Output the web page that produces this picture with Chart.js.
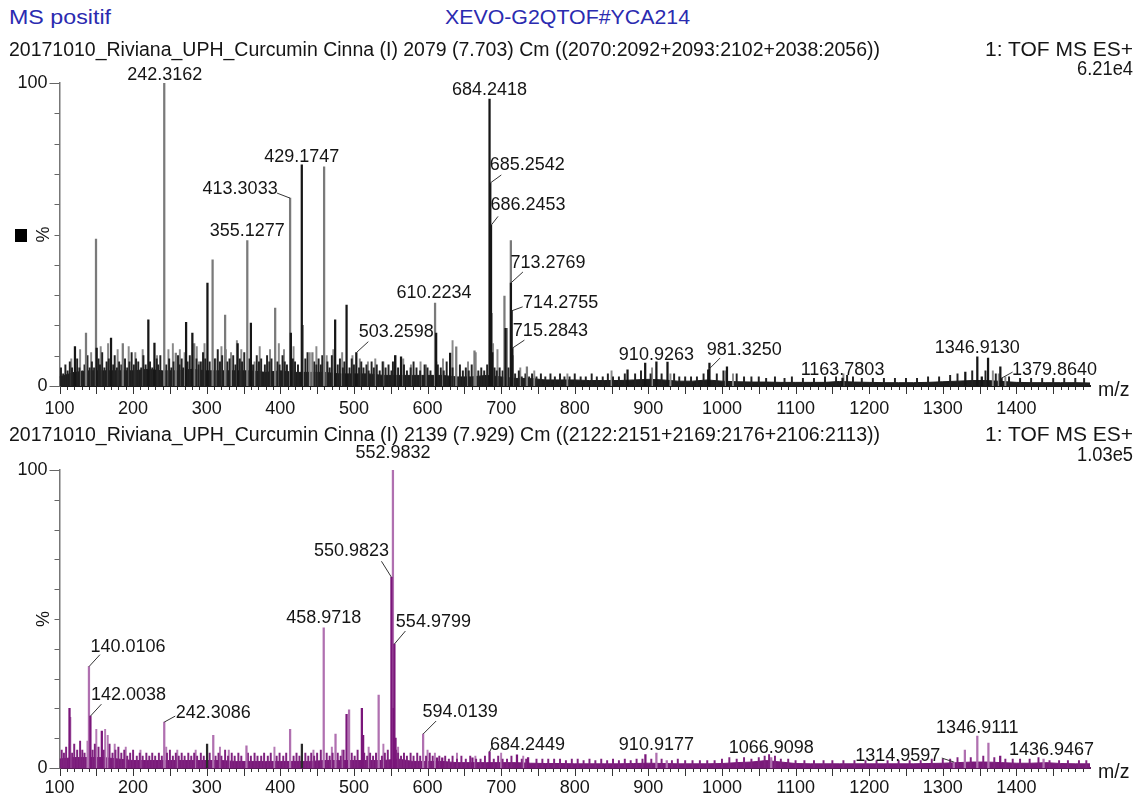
<!DOCTYPE html>
<html><head><meta charset="utf-8">
<script src="https://cdn.jsdelivr.net/npm/chart.js@4.4.1/dist/chart.umd.min.js"></script>
<style>
html,body{margin:0;padding:0;background:#fff;}
body{width:1137px;height:800px;position:relative;overflow:hidden;font-family:"Liberation Sans",Arial,sans-serif;}
.t{position:absolute;white-space:nowrap;font-size:19.5px;line-height:1;color:#151515;transform-origin:0 0;}
canvas{position:absolute;left:0;}
#sq{position:absolute;left:15px;top:229px;width:12px;height:13px;background:#000;}
</style></head><body>
<canvas id="c1" width="1137" height="370" style="top:55px;width:1137px;height:370px"></canvas>
<canvas id="c2" width="1137" height="360" style="top:440px;width:1137px;height:360px"></canvas>
<div id="sq"></div>
<script>
const FONT = '"Liberation Sans", Arial, sans-serif';

// ---------- shared axis labels ----------
const xTickLabels = [100,200,300,400,500,600,700,800,900,1000,1100,1200,1300,1400];
const yTickLabels = [0,100];

// ---------- top spectrum (scan 2079) ----------
const topDarkMz  = [121,150.5,170,220.7,229,272,280.5,301,342,360,414.3,429.1747,474.5,490,503.2598,556,564,611.7,630.7,684.2418,685.2542,686.2453,688,706,713.2769,714.2755,715.2843,871.7,895.7,910.9263,926,981.325,983,1006.8,1163.7803,1330.6,1346.913,1353,1361.5,1378.2,1379.864];
const topDarkPct = [13,12.5,15.8,21.8,14.2,21,17.5,34,14,20.8,17.5,73,21.8,26.7,11,10,9.6,17.5,10.9,94.7,67,53,11,19,34,24.8,12.5,5.3,7.6,8,7.9,5.3,7.6,6.3,2.6,4.6,9.6,3,9.2,6.3,2.6];
const topGreyMz  = [136,149.6,186,242.3162,258,283,308,325,355.1277,393,413.3033,430.5,443.6,459.5,610.2234,639,663.8,687,704.5,713.2,735];
const topGreyPct = [17.5,48.5,14,100,10.9,14,41.6,23.4,48,25.7,62,20,11,72.3,27.4,12.9,11.6,24,29.7,48,6.3];
const topGrassMz = [102,105,108,111,114,117,124,127,131,134,138,141,144,147,153,155,158,161,164,167,173,175,178,181,184,189,192,195,198,201,204,207,211,214,217,223,226,232,234,237,245,249,252,255,261,263,266,268,274,277,286,289,292,295,298,304,311,315,318,321,328,331,336,339,345,348,351,358,363,368,371,374,379,382,385,388,396,399,403,406,409,417,420,424,434,437,446,449,452,455,457,464,467,470,478,481,485,487,494,497,500,507,510,513,517,520,524,527,531,535,539,543,547,551,553,560,568,572,577,581,585,590,596,600,604,614,618,622,626,634,644,648,652,656,660,669,673,677,681,691,694,698,702,710,719,724,728,733,738,742,748,754,760,767,773,780,786,793,800,808,815,823,830,838,845,852,860,868,882,890,903,918,935,942,950,958,966,975,993,1002,1020,1030,1040,1050,1060,1072,1085,1095,1110,1125,1140,1155,1170,1178,1190,1205,1220,1235,1250,1265,1280,1295,1310,1320,1340,1358,1372,1390,1405,1420,1435,1450,1465,1480,1492];
const topGrassPct = [6,4,7,5,8,6,9,6,5,7,10,6,8,6,9,7,11,6,8,9,7,10,6,8,7,9,6,8,11,7,9,8,6,10,7,8,6,9,7,10,7,9,6,8,10,7,9,6,8,10,9,7,8,11,9,8,9,12,8,10,8,9,10,7,9,8,11,9,7,10,8,9,7,10,8,9,8,7,10,8,7,9,8,7,9,11,8,7,9,7,10,8,6,10,7,9,6,8,6,9,7,6,8,6,7,5,8,6,7,5,8,6,7,5,8,6,7,5,6,8,6,5,7,6,5,7,6,5,8,6,7,5,6,5,7,5,6,5,7,6,5,6,5,6,4,5,3,4,3,4,3,4,3,4,3,4,3,3,4,3,3,4,3,3,4,3,3,4,4,5,4,4,4,3,3,3,3,4,4,5,4,3,3,3,2.5,3,2.5,3,2.5,2.5,3,3,3.5,3,2.5,2.5,2.5,2.5,2.5,2.5,3,3,3.5,4,5,5,4,3,2.5,2.5,2.5,2.5,2.5,2.5,2.5];
const topGrassGreyMz  = [116,128,143,156,166,179,194,203,213,232.5,248,254,263.5,270,286.5,289.5,297,312,320,326,333,341,347,365,372,386,398,405,418,440,449,463,472,484,498,508,519,529,540,556.5,567,577.5,590.5,598,612,621,634,655,665.5,689,695,708,716,726,745,790,850,905,930,1005,1015,1165,1368,1376,1385];
const topGrassGreyPct = [9,12,11,13,14,12,13,11,12,10,12,14,12,11,13,8,14,9,13,12,11,15,12,8,13,12,14,12,13,11,13,10,12,11,10,9,8,9,8,10,9,7,8,7,8,9,15,8,11,14,12,19,10,6,5,4,5,6,4,5,4,4,5,4,3];
const topFloorMz  = [100,120,140,160,180,200,220,240,260,280,300,320,340,360,380,400,420,440,460,480,500,520,540,560,580,600,620,640,660,680,700,720,740,760,780,800,820,840,860,880,900,920,940,960,980,1000,1020,1040,1060,1080,1100,1120,1140,1160,1180,1200,1220,1240,1260,1280,1300,1320,1340,1360,1380,1400,1420,1440,1460,1480,1500];
const topFloorPct = [3,4.5,5,5,5,5,5.5,5,5,5.5,5,5,5,5,4.5,5,4.5,4.5,4.5,4,4,4,3.5,3.5,3.5,3.5,3.5,3,3,3.5,3,2.5,2.5,2,2,2,1.8,1.8,1.8,2,2.2,2,1.6,1.6,2,1.6,1.4,1.3,1.3,1.2,1.2,1.2,1.2,1.5,1.3,1.2,1.1,1.1,1.1,1.2,1.4,1.6,1.8,1.8,1.5,1.2,1.1,1.1,1.1,1.1,1.0];
const topLabelMz = [242.3162,684.2418,429.1747,413.3033,355.1277,503.2598,610.2234,685.2542,686.2453,713.2769,714.2755,715.2843,910.9263,981.325,1163.7803,1346.913,1379.864];
// label layout: [dx, dy(baseline), leaderStartDx, leaderStartDy]
const topLabelLayout = [[0.5,-3],[0,-4],[0,-3],[-50,-4,-13,-5],[0,-5],[40,-16,12,-11],[-1,-5],[37,-13,11,-8],[37,-15,7,-9],[37,-15,12,-11],[49,-3,11,-4],[38,-12,12,-8],[0,-2],[36,-15,12,-12],[0,-3],[0,-4],[53,-3,11,-6]];

// ---------- bottom spectrum (scan 2139) ----------
const botDarkMz  = [113.6,142.0038,157.5,490,510.8,512.5,550.9823,553.98,554.9799,556.5,613,620,661,684.2449,721.5,736.6,896,1378];
const botDarkPct = [20,17.4,12.4,18,20,11,64,20,41.6,10,3.4,3.4,3.4,5.4,4.4,3.5,4.5,4];
const botLightMz  = [114.5,140.0106,242.3086,308.9,354,413.3,458.9718,475,493.4,533.6,552.9832,594.0139,910.9177,925,1066.9098,1314.9597,1330,1346.9111,1362,1436.9467];
const botLightPct = [17,34,15.4,11,7.4,13,47,11.4,19.5,24.5,100,11.4,5,2.5,3.5,2,6,10.7,8.4,3];
const botBlackMz  = [300.5,429.3];
const botBlackPct = [8,8];
const botGrassMz = [103,106,109,117,120,124,128,131,134,145,148,153,160,168,172,176,180,184,188,192,196,200,205,209,213,218,222,226,230,235,239,246,250,254,258,262,266,270,275,279,283,287,292,296,304,312,316,320,325,329,334,338,343,347,356,360,365,369,374,378,383,387,395,399,404,408,418,422,426,434,438,442,446,450,455,463,467,471,478,482,486,497,501,505,514,518,522,526,530,538,542,546,557,560,564,568,572,577,581,586,590,598,603,607,616,624,629,634,640,646,652,658,666,672,678,690,696,702,708,714,728,734,748,756,764,772,780,788,796,804,812,820,828,836,844,852,860,868,876,884,892,904,918,932,940,950,960,970,980,990,1000,1010,1020,1030,1040,1050,1058,1064,1072,1080,1090,1100,1112,1125,1138,1150,1165,1180,1195,1210,1225,1240,1255,1270,1285,1300,1310,1320,1338,1355,1370,1385,1395,1405,1418,1430,1445,1458,1470,1485,1495];
const botGrassPct = [6,5,7,5,8,6,9,6,5,6,8,7,6,8,5,6,7,5,6,4,5,6,4,5,4,5,4,5,4,5,4,5,6,4,5,4,5,4,5,4,5,4,5,4,5,4,5,4,6,4,5,4,5,4,5,4,5,4,4,5,4,5,4,5,4,5,4,5,4,5,4,5,4,5,6,5,4,5,5,4,6,5,4,6,5,4,5,4,5,4,5,6,6,5,4,5,4,5,4,5,4,4,5,4,4,4,3,4,3,4,3,4,3,3,4,3,4,3,3,4,3,3,3,3,3,3,3,2.5,3,3,2.5,3,2.5,3,2.5,3,2.5,3,2.5,3,3,3,3,2.5,3,2.5,2.5,2.5,2.5,2.5,3,3.5,3,3.5,3,3.5,4,4.5,4,3,3,2.5,2.5,2.5,2.5,2.5,2.5,2.5,2.5,2.5,2.5,2.5,2.5,2.5,3,3,3,3.5,3.5,4,3.5,3,3,3,3,3.5,2.5,2.5,2.5,2.5,2.5];
const botGrassLightMz  = [114,138,150,162,165.5,175,190,210,245,260,285,318,330,392,445,470,484,520,540,560,600,610,640,665,700,730];
const botGrassLightPct = [8,9,13,13,11,8,7,6,7,6,6,7,6,7,6,7,6,7,8,7,6,5,5,4,5,4];
const botFloorMz  = topFloorMz;
const botFloorPct = [3,3.5,3.5,3.5,3,2.5,2.5,2.5,2.5,2.5,2.5,2.5,2.2,2.2,2.2,2.2,2.2,2.2,2.5,2.5,2.5,2.5,2.5,3,2.2,2.2,2.2,1.8,1.8,1.8,1.8,1.8,1.6,1.5,1.5,1.4,1.4,1.4,1.4,1.5,1.6,1.5,1.4,1.4,1.4,1.5,1.8,2,2.5,2,1.5,1.4,1.4,1.4,1.4,1.4,1.4,1.4,1.4,1.5,1.6,1.8,2,2,1.8,1.6,1.6,1.8,1.5,1.4,1.4];
const botLabelMz = [552.9832,550.9823,554.9799,458.9718,140.0106,142.0038,242.3086,594.0139,684.2449,910.9177,1066.9098,1314.9597,1346.9111,1436.9467];
const botLabelLayout = [[0,-12],[-40,-21,-10,-16],[39,-17,11,-13],[0,-5],[39,-15,11,-12],[38,-16,11,-12],[49,-4,11,-6],[37,-17,13,-13],[38,-2,3,-6],[0,-3],[0,-5],[-56,-1,-12,-4],[0,-3],[8,-4]];

// ---------- header texts ----------
const headerItems = [
  {text:'MS positif', x:9, base:24, w:102, color:'#2b2bb0'},
  {text:'XEVO-G2QTOF#YCA214', x:445, base:24, w:245, color:'#2b2bb0'},
  {text:'20171010_Riviana_UPH_Curcumin Cinna (I) 2079 (7.703) Cm ((2070:2092+2093:2102+2038:2056))', x:9, base:56, w:871},
  {text:'1: TOF MS ES+', right:1133, base:56, w:148},
  {text:'6.21e4', right:1133, base:75, w:56},
  {text:'20171010_Riviana_UPH_Curcumin Cinna (I) 2139 (7.929) Cm ((2122:2151+2169:2176+2106:2113))', x:9, base:441, w:871},
  {text:'1: TOF MS ES+', right:1133, base:441, w:148},
  {text:'1.03e5', right:1133, base:461, w:56}
];
headerItems.forEach(h => {
  const d = document.createElement('div');
  d.className = 't'; d.textContent = h.text;
  if (h.color) d.style.color = h.color;
  document.body.appendChild(d);
  const w0 = d.getBoundingClientRect().width;
  const left = h.right !== undefined ? h.right - h.w : h.x;
  d.style.left = left + 'px';
  d.style.top = (h.base - 16.5) + 'px';
  d.style.transform = 'scaleX(' + (h.w / w0) + ')';
});

// ---------- helpers ----------
const pts = (mz, pct) => mz.map((m, i) => ({x: m, y: pct[i]}));
function labelItems(mzs, layout, groups) {
  return mzs.map((m, i) => {
    let pct = 0;
    groups.forEach(([gm, gp]) => { const k = gm.indexOf(m); if (k >= 0) pct = gp[k]; });
    const L = layout[i];
    return {mz: m, pct, text: m.toFixed(4), dx: L[0], dy: L[1], lead: L.length > 2 ? [L[2], L[3]] : null};
  });
}

const msPlugin = {
  id: 'msDecor',
  afterDatasetsDraw(chart, args, o) {
    const ctx = chart.ctx, xs = chart.scales.x, ys = chart.scales.y;
    ctx.save();
    ctx.font = '18px ' + FONT; ctx.fillStyle = '#151515';
    ctx.textAlign = 'center'; ctx.textBaseline = 'alphabetic';
    ctx.strokeStyle = o.leadColor; ctx.lineWidth = 1;
    o.labels.forEach(l => {
      const px = xs.getPixelForValue(l.mz), py = ys.getPixelForValue(l.pct);
      ctx.fillText(l.text, px + l.dx, py + l.dy);
      if (l.lead) { ctx.beginPath(); ctx.moveTo(px + l.lead[0], py + l.lead[1]); ctx.lineTo(px, py); ctx.stroke(); }
    });
    ctx.restore();
  },
  afterDraw(chart, args, o) {
    const ctx = chart.ctx, xs = chart.scales.x, ys = chart.scales.y;
    const y0 = ys.getPixelForValue(0);
    ctx.save();
    ctx.strokeStyle = o.tickColor; ctx.lineWidth = 1;
    ctx.beginPath();
    for (let v = xs.min; v < xs.max - 5; v += 10) {
      const px = Math.round(xs.getPixelForValue(v)) + 0.5;
      const len = v % 50 === 0 ? 7 : 3;
      ctx.moveTo(px, y0 + 1); ctx.lineTo(px, y0 + 1 + len);
    }
    ctx.stroke();
    ctx.strokeStyle = '#666';
    ctx.beginPath();
    for (let v = 0; v <= 100; v += 10) {
      const py = Math.round(ys.getPixelForValue(v)) + 0.5;
      const len = (v === 0 || v === 100) ? 10 : 5;
      ctx.moveTo(xs.left - len, py); ctx.lineTo(xs.left, py);
    }
    ctx.stroke();
    ctx.fillStyle = '#151515';
    ctx.font = '18px ' + FONT; ctx.textAlign = 'center'; ctx.textBaseline = 'middle';
    ctx.save();
    ctx.translate(o.pctX, (ys.top + ys.bottom) / 2 + o.pctDy);
    ctx.rotate(-Math.PI / 2);
    ctx.fillText('%', 0, 0);
    ctx.restore();
    ctx.font = '19.5px ' + FONT; ctx.textAlign = 'left'; ctx.textBaseline = 'alphabetic';
    ctx.fillText('m/z', xs.right + 8, y0 + 10);
    ctx.restore();
  }
};

function makeChart(id, cfg) {
  const bar = (data, color, order, w) => ({type: 'bar', data, backgroundColor: color, borderWidth: 0,
    barThickness: w, stack: 'ms', order});
  return new Chart(document.getElementById(id), {
    type: 'bar',
    data: {
      datasets: cfg.sticks.map(s => bar(s.data, s.color, s.order, s.w)).concat([{
        type: 'line', data: cfg.floor, borderColor: cfg.floorColor, backgroundColor: cfg.floorColor,
        borderWidth: 1, fill: 'origin', pointRadius: 0, tension: 0, order: 20
      }])
    },
    options: {
      responsive: false, animation: false, devicePixelRatio: 1,
      layout: {padding: {left: 0, right: 47, top: cfg.padTop, bottom: 0}},
      plugins: {legend: {display: false}, tooltip: {enabled: false},
        msDecor: {labels: cfg.labels, leadColor: '#333', tickColor: '#333', pctX: 44, pctDy: cfg.pctDy}},
      scales: {
        x: {type: 'linear', min: 100, max: 1500, offset: false,
          grid: {display: false, drawTicks: false}, border: {display: true, color: cfg.axisColor, width: 2},
          ticks: {stepSize: 100, autoSkip: false, maxRotation: 0, padding: cfg.xPad, color: '#151515',
            font: {family: FONT, size: 18}, callback: v => xTickLabels.includes(v) ? String(v) : ''},
          afterFit: s => { s.height = cfg.xH; }},
        y: {min: 0, max: 100, stacked: false,
          grid: {display: false, drawTicks: false}, border: {display: true, color: '#777', width: 1.5},
          ticks: {stepSize: 100, padding: 12, color: '#151515', font: {family: FONT, size: 18},
            callback: v => yTickLabels.includes(v) ? String(v) : ''},
          afterFit: s => { s.width = 59.5; }}
      }
    },
    plugins: [msPlugin]
  });
}

makeChart('c1', {
  padTop: 28, xH: 39, xPad: 12, pctDy: 0, axisColor: '#1a1a1a', floorColor: '#1e1e1e',
  floor: pts(topFloorMz, topFloorPct),
  sticks: [
    {data: pts(topDarkMz, topDarkPct), color: '#161616', order: 0, w: 1.6},
    {data: pts(topGreyMz, topGreyPct), color: '#7a7a7a', order: 1, w: 1.6},
    {data: pts(topGrassGreyMz, topGrassGreyPct), color: '#8a8a8a', order: 3, w: 1.3},
    {data: pts(topGrassMz, topGrassPct), color: '#222222', order: 2, w: 1.3}
  ],
  labels: labelItems(topLabelMz, topLabelLayout, [[topDarkMz, topDarkPct], [topGreyMz, topGreyPct]])
});

makeChart('c2', {
  padTop: 30, xH: 32, xPad: 9, pctDy: 0, axisColor: '#5a1a5a', floorColor: '#7a1a7a',
  floor: pts(botFloorMz, botFloorPct),
  sticks: [
    {data: pts(botDarkMz, botDarkPct), color: '#7a167a', order: 0, w: 1.6},
    {data: pts(botBlackMz, botBlackPct), color: '#2a2a2a', order: 0, w: 1.6},
    {data: pts(botLightMz, botLightPct), color: '#b070b0', order: 1, w: 1.6},
    {data: pts(botGrassLightMz, botGrassLightPct), color: '#b57ab5', order: 3, w: 1.3},
    {data: pts(botGrassMz, botGrassPct), color: '#7f227f', order: 2, w: 1.3}
  ],
  labels: labelItems(botLabelMz, botLabelLayout, [[botDarkMz, botDarkPct], [botLightMz, botLightPct]])
});
</script>
</body></html>
